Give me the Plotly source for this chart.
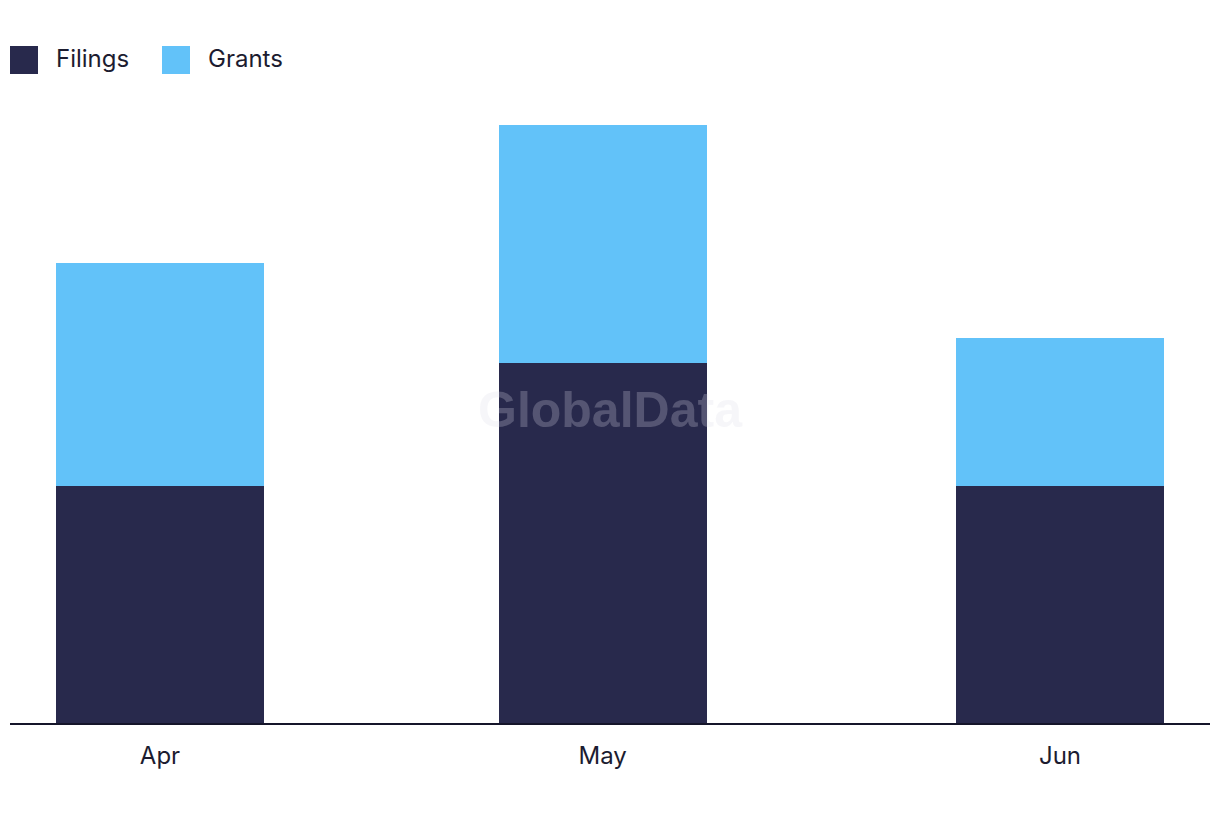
import plotly.graph_objects as go

months = ["Apr", "May", "Jun"]
month_dates = ["2024-04-01", "2024-05-01", "2024-06-01"]
filings = [16.0, 24.3, 16.0]
grants = [15.1, 16.1, 10.0]

FILINGS_COLOR = "#28294C"
GRANTS_COLOR = "#62C2F9"
TEXT_COLOR = "#1C1C30"
FONT = "Inter, Lato, Roboto, sans-serif"

bar_width_ms = 14.1 * 86400000

fig = go.Figure()
fig.add_trace(go.Bar(x=month_dates, y=filings, name="Filings", marker_color=FILINGS_COLOR,
                     marker_line_width=0, width=bar_width_ms, showlegend=False))
fig.add_trace(go.Bar(x=month_dates, y=grants, name="Grants", marker_color=GRANTS_COLOR,
                     marker_line_width=0, width=bar_width_ms, showlegend=False))

W, H = 1220, 822
ml, mr, mt, mb = 10, 10, 100, 99
pw, ph = W - ml - mr, H - mt - mb

def px_x(x):
    return (x - ml) / pw

def px_y(y):
    return (H - mb - y) / ph

shapes = []
annotations = []
legend_items = [("Filings", FILINGS_COLOR, 10, 54), ("Grants", GRANTS_COLOR, 162, 206)]
for name, color, sx, tx in legend_items:
    shapes.append(dict(type="rect", xref="paper", yref="paper",
                       x0=px_x(sx), x1=px_x(sx + 28), y0=px_y(74), y1=px_y(46),
                       fillcolor=color, line_width=0))
    annotations.append(dict(text=name, xref="paper", yref="paper", x=px_x(tx), y=px_y(58),
                            xanchor="left", yanchor="middle", showarrow=False,
                            font=dict(family=FONT, size=24, color=TEXT_COLOR)))

annotations.append(dict(text="<b>GlobalData</b>", xref="paper", yref="paper",
                        x=px_x(610), y=px_y(410), xanchor="center", yanchor="middle",
                        showarrow=False,
                        font=dict(family="Liberation Sans, Arial, sans-serif", size=50,
                                  color="rgba(220,220,230,0.25)")))

fig.update_layout(
    width=W, height=H,
    margin=dict(l=ml, r=mr, t=mt, b=mb),
    barmode="stack",
    plot_bgcolor="white", paper_bgcolor="white",
    showlegend=False,
    shapes=shapes,
    annotations=annotations,
    font=dict(family=FONT, color=TEXT_COLOR),
)
fig.update_xaxes(
    type="date",
    range=["2024-03-21 20:00", "2024-06-11 04:00"],
    tickvals=month_dates, ticktext=months,
    showline=True, linecolor="#15152A", linewidth=2,
    showgrid=False, zeroline=False, ticks="",
    ticklabelstandoff=10,
    tickfont=dict(family=FONT, size=24, color=TEXT_COLOR),
)
fig.update_yaxes(
    range=[0, ph / 14.8],
    visible=False, showgrid=False, zeroline=False,
)

fig.write_html("out.html")
